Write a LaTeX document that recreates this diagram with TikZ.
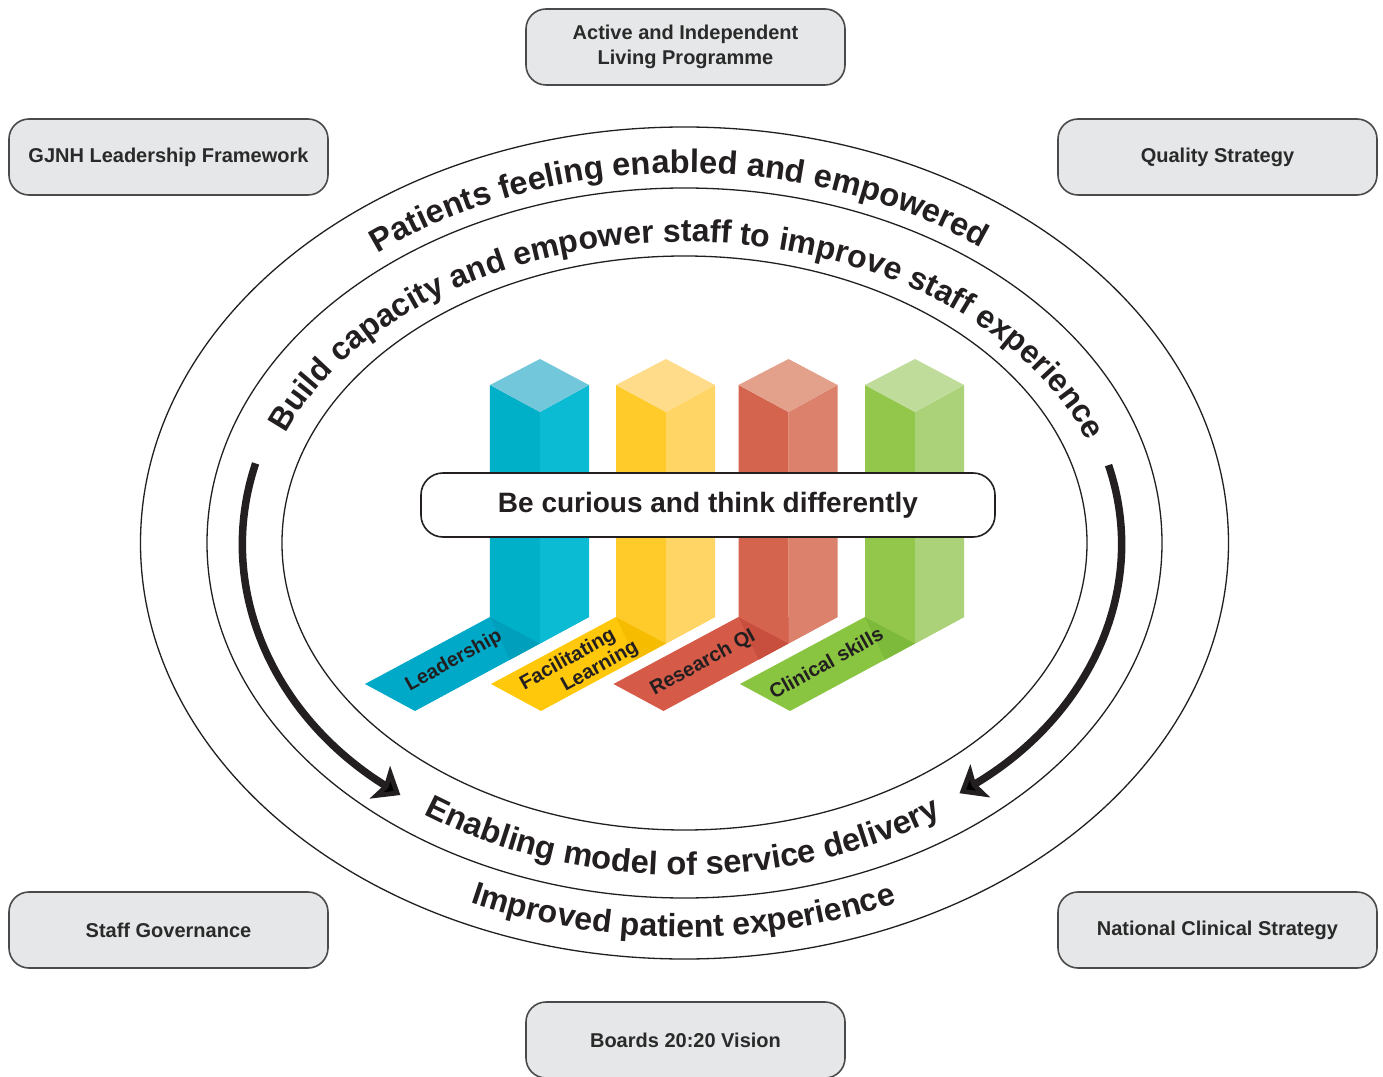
\documentclass[tikz,border=0pt]{standalone}
\usepackage{fontspec}
\setmainfont{Liberation Sans}
\usetikzlibrary{arrows.meta,decorations.text}

\definecolor{ink}{HTML}{231F20}
\definecolor{boxgray}{HTML}{E6E7E8}
\definecolor{boxline}{HTML}{4A4A4A}
\definecolor{boxtext}{HTML}{2A2A2A}
% pillar colours: left face, right face, top face, floor strip, fold shade
\definecolor{cyanL}{HTML}{00AFC8}\definecolor{cyanR}{HTML}{0ABBD3}\definecolor{cyanT}{HTML}{72C7DA}\definecolor{cyanF}{HTML}{00A9C7}\definecolor{cyanS}{HTML}{009FBB}
\definecolor{yelL}{HTML}{FFCB2B}\definecolor{yelR}{HTML}{FFD566}\definecolor{yelT}{HTML}{FFDC8A}\definecolor{yelF}{HTML}{FFC80A}\definecolor{yelS}{HTML}{F5BC00}
\definecolor{redL}{HTML}{D5644F}\definecolor{redR}{HTML}{DC816B}\definecolor{redT}{HTML}{E3A18B}\definecolor{redF}{HTML}{D65A48}\definecolor{redS}{HTML}{C84F3E}
\definecolor{grnL}{HTML}{93C74B}\definecolor{grnR}{HTML}{ABD279}\definecolor{grnT}{HTML}{BFDC9B}\definecolor{grnF}{HTML}{89C540}\definecolor{grnS}{HTML}{7DB93A}

\newcommand{\ringfont}[1]{\fontsize{#1}{#1}\selectfont\bfseries}

% #1 left edge x, #2 colour prefix
\newcommand{\drawpillar}[2]{%
  \fill[#2F] (#1,-74) -- (#1-125,-141) -- (#1-75,-168) -- (#1+99,-74) -- cycle;
  \fill[#2S] (#1,-74) -- (#1+50,-100.5) -- (#1+20,-116.7) -- cycle;
  \fill[#2L] (#1,158) -- (#1+50,131) -- (#1+50,-100.5) -- (#1,-74) -- cycle;
  \fill[#2R] (#1+50,131) -- (#1+99,158) -- (#1+99,-74) -- (#1+50,-100.5) -- cycle;
  \fill[#2T] (#1+50,184) -- (#1,158) -- (#1+50,131) -- (#1+99,158) -- cycle;
}

\begin{document}
\begin{tikzpicture}[x=1pt,y=1pt,
  ring/.style={draw=ink,line width=1.3pt},
  framebox/.style={rounded corners=20pt,fill=boxgray,draw=boxline,line width=1.6pt,
    minimum width=319pt,minimum height=76pt,align=center,text=boxtext,
    font=\fontsize{20}{25}\selectfont\bfseries},
  flow/.style={draw=ink,line width=7.5pt,-{Stealth[length=24pt,width=38pt,inset=5pt]}},
  striplabel/.style={rotate=29,text=ink,font=\fontsize{20}{22}\selectfont\bfseries},
  ringtext/.style={decorate,decoration={text along path,text align=center,text color=ink,text={#1}}}
]
\useasboundingbox (-684.5,-533) rectangle (698.5,543);
\fill[white] (-684.5,-533) rectangle (698.5,543);

% outer boxes
\node[framebox] (aip) at (1,496) {Active and Independent\\Living Programme};
\node[framebox] (gjnh) at (-516,386) {GJNH Leadership Framework};
\node[framebox] (qs) at (533,386) {Quality Strategy};
\node[framebox] (sg) at (-516,-387) {Staff Governance};
\node[framebox] (ncs) at (533,-387) {National Clinical Strategy};
\node[framebox] (bv) at (1,-497) {Boards 20:20 Vision};

% concentric rings
\draw[ring] (0,0) ellipse [x radius=544, y radius=416];
\draw[ring] (0,0) ellipse [x radius=477.5, y radius=355];
\draw[ring] (0,0) ellipse [x radius=402.5, y radius=287];

% ring captions
\path[ringtext={|\ringfont{32.6}|Patients feeling enabled and empowered}]
  (150:493 and 370) arc[start angle=150,end angle=31.6,x radius=493,y radius=370];
\path[ringtext={|\ringfont{32}|Build capacity and empower staff to improve staff experience}]
  (170:428 and 301) arc[start angle=170,end angle=8.4,x radius=428,y radius=301];
\path[ringtext={|\ringfont{32.6}|Enabling model of service delivery}]
  (199.4:452 and 332) arc[start angle=199.4,end angle=340,x radius=452,y radius=332];
\path[ringtext={|\ringfont{32}|Improved patient experience}]
  (210:520 and 394) arc[start angle=210,end angle=329.7,x radius=520,y radius=394];

% flow arrows
\coordinate (la) at (166:442 and 329);
\coordinate (ra) at (14:437 and 322);
\draw[flow] (la) arc[start angle=166,end angle=230,x radius=442,y radius=329];
\draw[flow] (ra) arc[start angle=14,end angle=-51,x radius=437,y radius=322];

% pillars
\drawpillar{-194.5}{cyan}
\drawpillar{-68.5}{yel}
\drawpillar{54}{red}
\drawpillar{180.5}{grn}

\node[striplabel] (lead) at (-230.5,-118) {Leadership};
\node[striplabel] (fac) at (-116.5,-117) {Facilitating};
\node[striplabel] (lrn) at (-84.5,-124) {Learning};
\node[striplabel] (rqi) at (18.5,-120) {Research QI};
\node[striplabel] (clin) at (141.5,-120) {Clinical skills};

% banner across the pillars
\node[draw=ink,line width=1.6pt,fill=white,rounded corners=22pt,minimum width=574pt,
  minimum height=64pt,text=ink,font=\fontsize{28}{34}\selectfont\bfseries]
  (motto) at (23.5,38) {Be curious and think differently};
\end{tikzpicture}
\end{document}
